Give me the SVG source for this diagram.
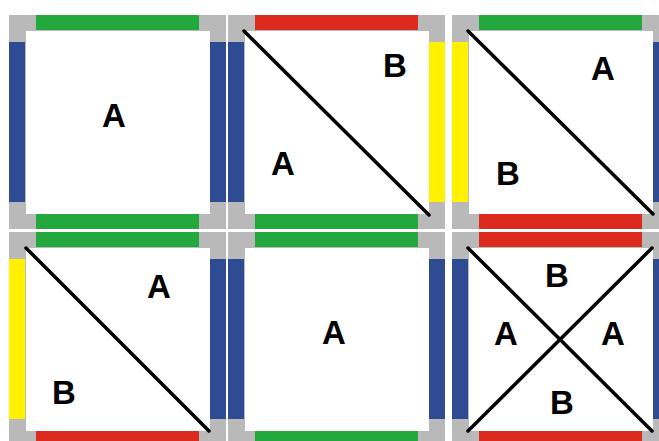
<svg xmlns="http://www.w3.org/2000/svg" width="659" height="441" viewBox="0 0 659 441">
<style>
.frame{fill:#b9b9b9}
.in{fill:#ffffff}
.g{fill:#22a83c}
.r{fill:#dc2a1e}
.b{fill:#2f4b93}
.y{fill:#fff100}
.d{stroke:#000;stroke-width:3.5;fill:none;stroke-linecap:round}
.t{font-family:"Liberation Sans",Arial,sans-serif;font-weight:bold;font-size:33px;fill:#000;text-anchor:middle}
</style>
<defs>
<g id="base">
<rect class="frame" width="217" height="214"/>
<rect class="in" x="17" y="16" width="184" height="183"/>
</g>
</defs>
<rect width="659" height="441" fill="#fff"/>
<g id="tile1" transform="translate(9,15)">
<use href="#base"/>
<rect class="g" x="27" y="0" width="163" height="15"/>
<rect class="g" x="27" y="199" width="163" height="15"/>
<rect class="b" x="0" y="27" width="16" height="160"/>
<rect class="b" x="201" y="27" width="16" height="160"/>
<text class="t" x="105" y="112">A</text>
</g>
<g id="tile2" transform="translate(228,15)">
<use href="#base"/>
<rect class="r" x="27" y="0" width="163" height="15"/>
<rect class="g" x="27" y="199" width="163" height="15"/>
<rect class="b" x="0" y="27" width="16" height="160"/>
<rect class="y" x="201" y="27" width="16" height="160"/>
<line class="d" x1="16" y1="16" x2="201" y2="200"/>
<text class="t" x="167" y="62">B</text>
<text class="t" x="55" y="160">A</text>
</g>
<g id="tile3" transform="translate(452,15)">
<use href="#base"/>
<rect class="g" x="27" y="0" width="163" height="15"/>
<rect class="r" x="27" y="199" width="163" height="15"/>
<rect class="y" x="0" y="27" width="16" height="160"/>
<rect class="b" x="201" y="27" width="16" height="160"/>
<line class="d" x1="16" y1="16" x2="201" y2="199"/>
<text class="t" x="151" y="65">A</text>
<text class="t" x="56" y="170">B</text>
</g>
<g id="tile4" transform="translate(9,232)">
<use href="#base"/>
<rect class="g" x="27" y="0" width="163" height="15"/>
<rect class="r" x="27" y="199" width="163" height="15"/>
<rect class="y" x="0" y="27" width="16" height="160"/>
<rect class="b" x="201" y="27" width="16" height="160"/>
<line class="d" x1="17" y1="16" x2="200" y2="199"/>
<text class="t" x="150" y="66">A</text>
<text class="t" x="55" y="172">B</text>
</g>
<g id="tile5" transform="translate(228,232)">
<use href="#base"/>
<rect class="g" x="27" y="0" width="163" height="15"/>
<rect class="g" x="27" y="199" width="163" height="15"/>
<rect class="b" x="0" y="27" width="16" height="160"/>
<rect class="b" x="201" y="27" width="16" height="160"/>
<text class="t" x="106" y="112">A</text>
</g>
<g id="tile6" transform="translate(452,232)">
<use href="#base"/>
<rect class="r" x="27" y="0" width="163" height="15"/>
<rect class="r" x="27" y="199" width="163" height="15"/>
<rect class="b" x="0" y="27" width="16" height="160"/>
<rect class="b" x="201" y="27" width="16" height="160"/>
<line class="d" x1="16" y1="16" x2="200" y2="199"/>
<line class="d" x1="200" y1="16" x2="16" y2="199"/>
<text class="t" x="105" y="55">B</text>
<text class="t" x="54" y="113">A</text>
<text class="t" x="161" y="113">A</text>
<text class="t" x="110" y="182">B</text>
</g>
</svg>
